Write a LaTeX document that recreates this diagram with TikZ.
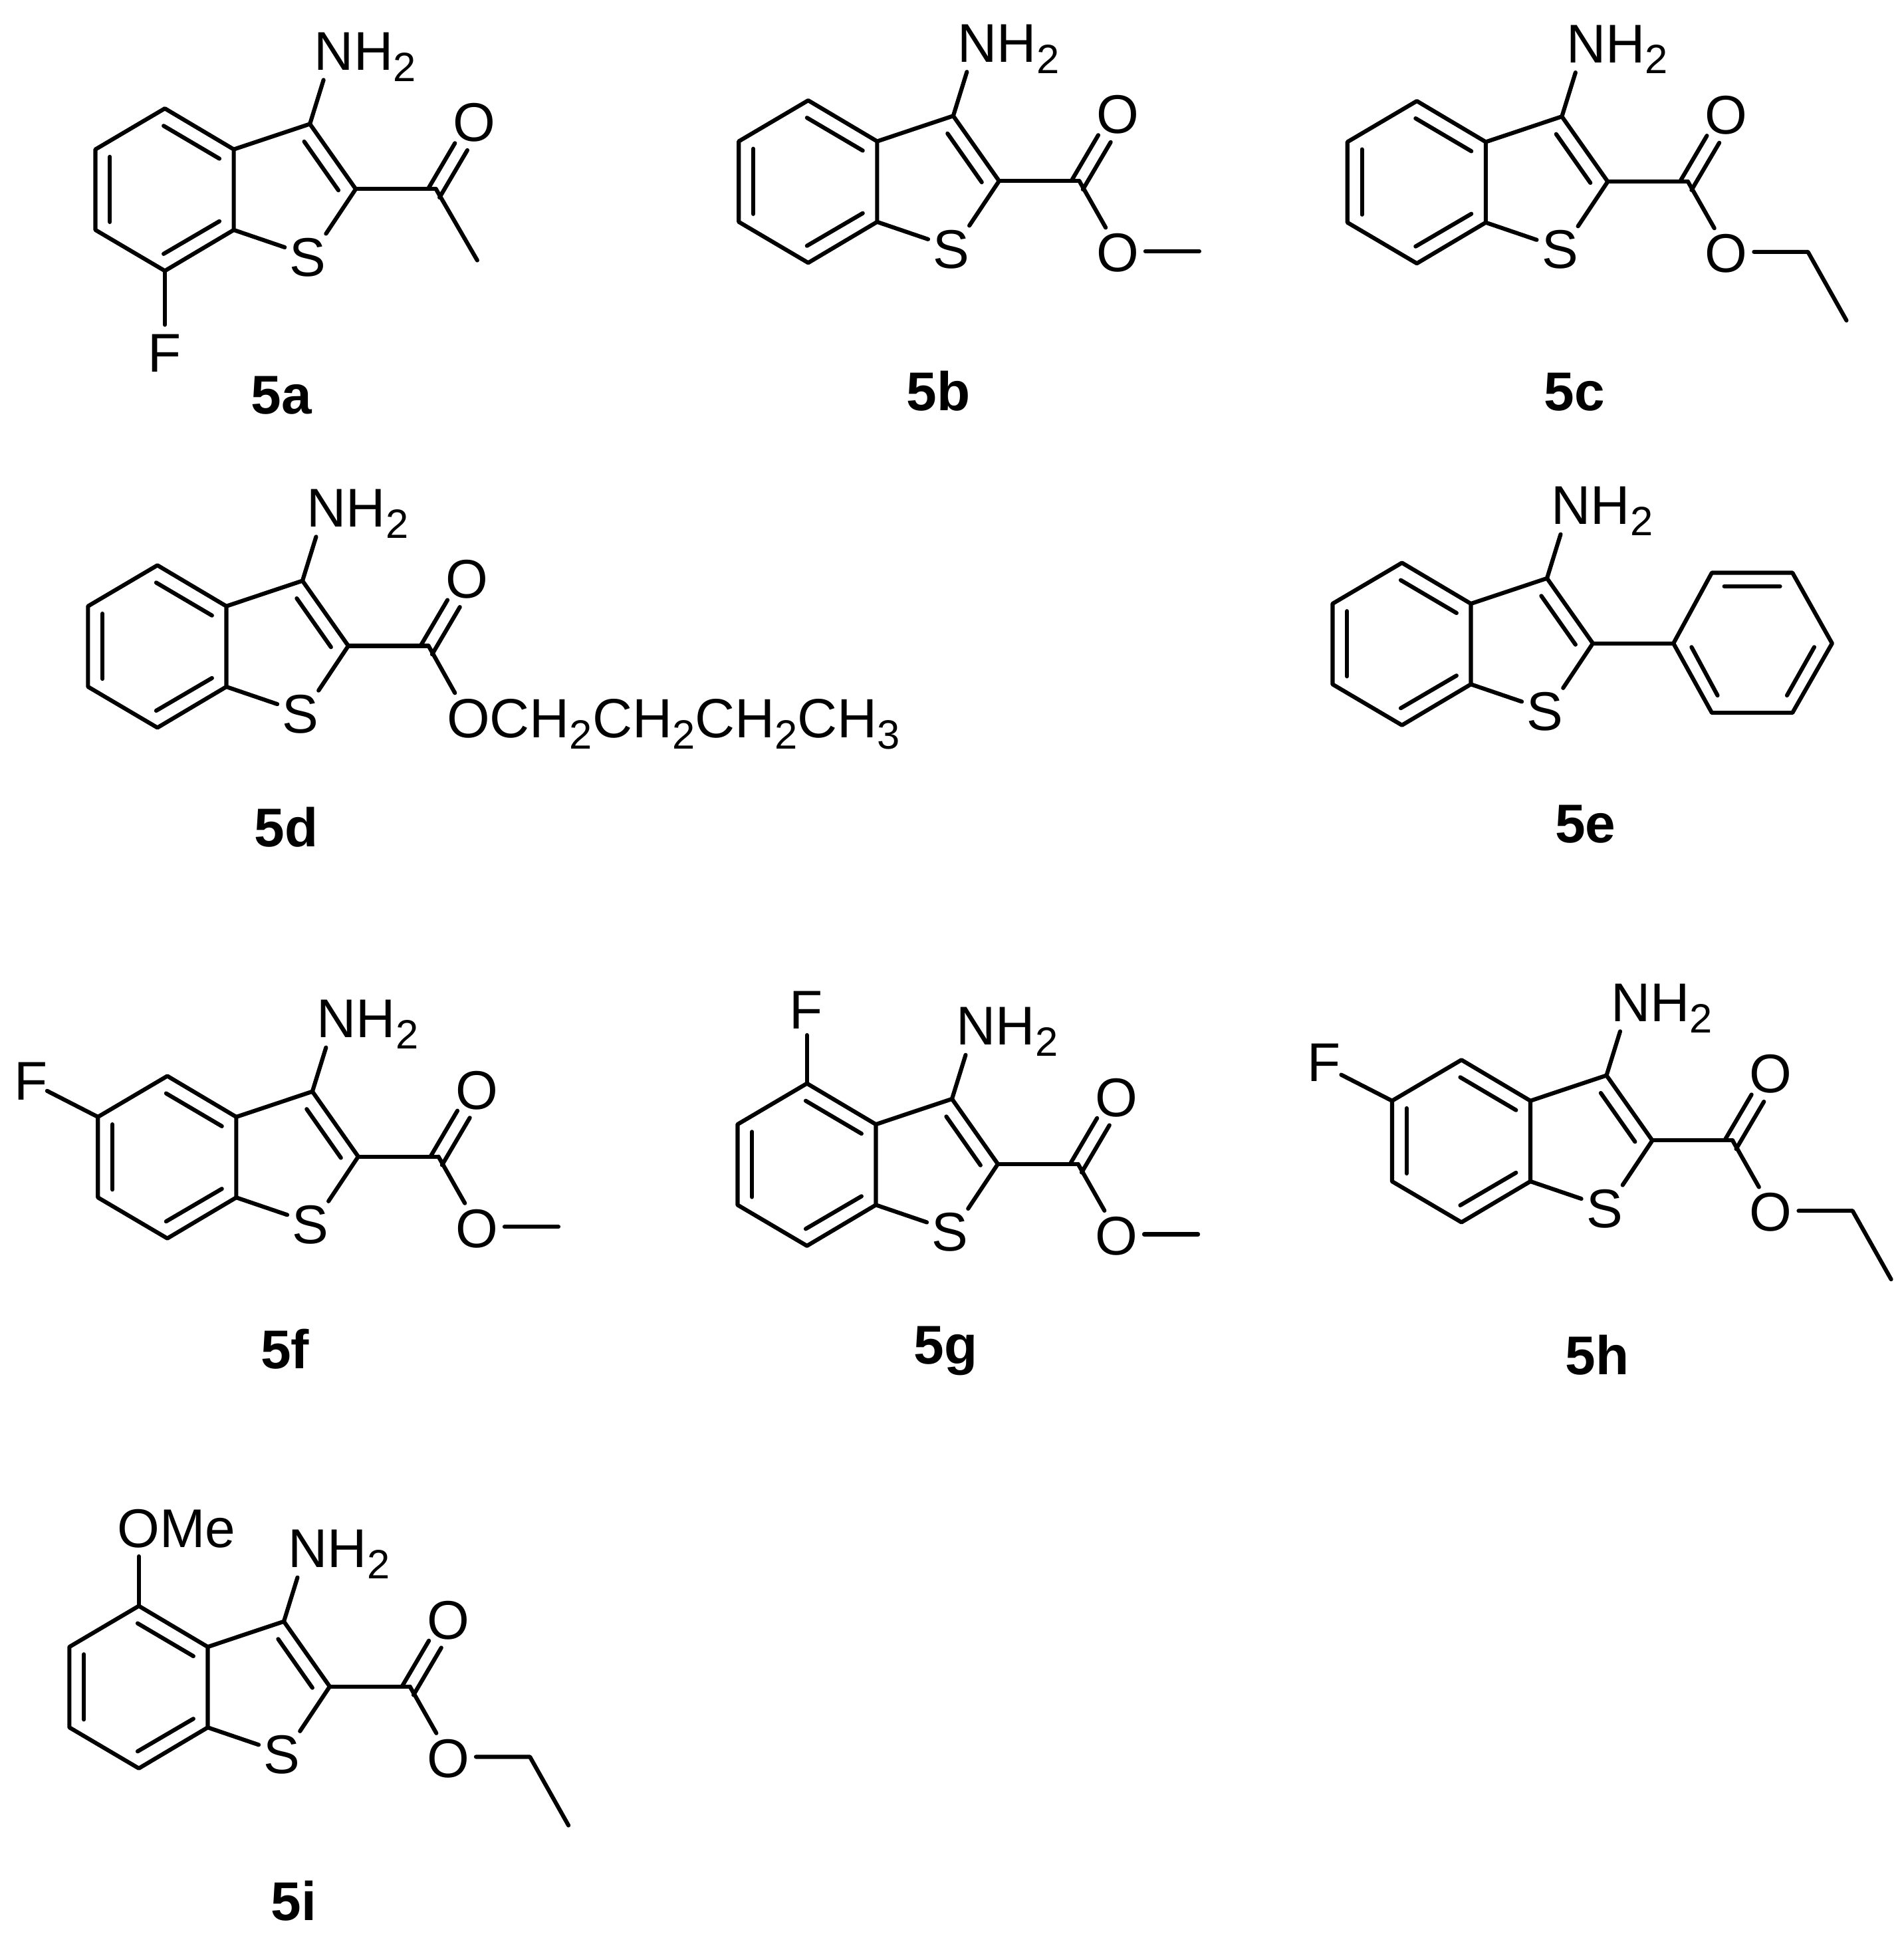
\documentclass[tikz,border=0pt]{standalone}
\usepackage{fontspec}
\setmainfont{Liberation Sans}
\newcommand{\sbs}[1]{\raisebox{-9pt}{\fontsize{33}{33}\selectfont #1}}
\tikzset{
  x=1pt,y=-1pt,
  bond/.style={line width=3.3pt,line cap=round,line join=round,black},
  atom/.style={inner sep=0pt,outer sep=0pt,font=\fontsize{44}{44}\selectfont},
  atomw/.style={atom,anchor=base west},
  cpd/.style={inner sep=0pt,outer sep=0pt,anchor=base,font=\fontsize{44}{44}\selectfont\bfseries},
}
% benzothiophene core with 3-NH2; coordinates are those of 5b, shifted by the enclosing scope
\newcommand{\core}[1]{%
  \coordinate (#1c3) at (769,93.5);
  \coordinate (#1c2) at (806,146);
  \coordinate (#1c7a) at (707.6,179);
  \coordinate (#1c3a) at (707.6,114);
  \coordinate (#1c4) at (652,81);
  \coordinate (#1c5) at (596,114);
  \coordinate (#1c6) at (596,179);
  \coordinate (#1c7) at (652,212);
  \coordinate (#1sa) at (748.7,193);
  \coordinate (#1sb) at (782,182);
  \coordinate (#1na) at (780,58);
  \coordinate (#1i1a) at (651,95);   \coordinate (#1i1b) at (696,121.5);
  \coordinate (#1i2a) at (607.7,120);\coordinate (#1i2b) at (607.7,172.6);
  \coordinate (#1i3a) at (651,198.3);\coordinate (#1i3b) at (696,172);
  \coordinate (#1i4a) at (764.4,107.7);\coordinate (#1i4b) at (792,147);
  \node[atom] (#1S) at (767.5,201) {S};
  \node[atomw] (#1N) at (772.6,50) {NH\sbs{2}};
  \draw[bond] (#1c3a) -- (#1c4) -- (#1c5) -- (#1c6) -- (#1c7) -- (#1c7a) -- cycle;
  \draw[bond] (#1c3a) -- (#1c3) -- (#1c2);
  \draw[bond] (#1c7a) -- (#1sa);
  \draw[bond] (#1c2) -- (#1sb);
  \draw[bond] (#1c3) -- (#1na);
  \draw[bond] (#1i1a) -- (#1i1b);
  \draw[bond] (#1i2a) -- (#1i2b);
  \draw[bond] (#1i3a) -- (#1i3b);
  \draw[bond] (#1i4a) -- (#1i4b);
}
% C(=O) group on C2
\newcommand{\carbonyl}[1]{%
  \coordinate (#1cc) at (870.7,146);
  \coordinate (#1d1a) at (886,109);   \coordinate (#1d1b) at (864.5,145.6);
  \coordinate (#1d2a) at (896,114.7); \coordinate (#1d2b) at (873.6,152.8);
  \node[atom] (#1Oa) at (901.5,92.5) {O};
  \draw[bond] (#1c2) -- (#1cc);
  \draw[bond] (#1d1a) -- (#1d1b);
  \draw[bond] (#1d2a) -- (#1d2b);
}
% ester oxygen
\newcommand{\estero}[1]{%
  \coordinate (#1ob) at (892,183.6);
  \node[atom] (#1Ob) at (901.5,204) {O};
  \draw[bond] (#1cc) -- (#1ob);
  \coordinate (#1me0) at (924,202.7);
  \coordinate (#1me1) at (967.5,202.7);
}
\newcommand{\methyl}[1]{\draw[bond] (#1me0) -- (#1me1);}
\newcommand{\ethyl}[1]{%
  \coordinate (#1et) at (998.6,258);
  \draw[bond] (#1me0) -- (#1me1) -- (#1et);
}
\begin{document}
\begin{tikzpicture}
\useasboundingbox (0,0) rectangle (1536,1568.2);
% 5a
\begin{scope}[shift={(-519,6.5)}]
  \core{a}\carbonyl{a}
  \coordinate (aac) at (904,203.5);
  \draw[bond] (acc) -- (aac);
  \coordinate (afb) at (652,255.5);
  \node[atom] (aF) at (652,278.5) {F};
  \draw[bond] (ac7) -- (afb);
\end{scope}
\node[cpd] (La) at (227,334) {5a};
% 5b
\begin{scope}
  \core{b}\carbonyl{b}\estero{b}\methyl{b}
\end{scope}
\node[cpd] (Lb) at (757,331) {5b};
% 5c
\begin{scope}[shift={(491,0.5)}]
  \core{c}\carbonyl{c}\estero{c}\ethyl{c}
\end{scope}
\node[cpd] (Lc) at (1270,331) {5c};
% 5d
\begin{scope}[shift={(-525,375)}]
  \core{d}\carbonyl{d}
  \coordinate (dob) at (892,184);
  \draw[bond] (dcc) -- (dob);
  \node[atomw,font=\fontsize{44.6}{44.6}\selectfont] (dO) at (885.5,220) {OCH\sbs{2}CH\sbs{2}CH\sbs{2}CH\sbs{3}};
\end{scope}
\node[cpd] (Ld) at (231,683) {5d};
% 5e
\begin{scope}[shift={(479,373)}]
  \core{e}
  \coordinate (ep1) at (871,146);
  \coordinate (ep2) at (902,89);
  \coordinate (ep3) at (967,89);
  \coordinate (ep4) at (999,146);
  \coordinate (ep5) at (967,202);
  \coordinate (ep6) at (902,202);
  \coordinate (eq1a) at (912,100);   \coordinate (eq1b) at (957,100);
  \coordinate (eq2a) at (984.6,149); \coordinate (eq2b) at (962.6,188);
  \coordinate (eq3a) at (906.6,188); \coordinate (eq3b) at (885.6,149);
  \draw[bond] (ec2) -- (ep1);
  \draw[bond] (ep1) -- (ep2) -- (ep3) -- (ep4) -- (ep5) -- (ep6) -- cycle;
  \draw[bond] (eq1a) -- (eq1b);
  \draw[bond] (eq2a) -- (eq2b);
  \draw[bond] (eq3a) -- (eq3b);
\end{scope}
\node[cpd] (Le) at (1279,680) {5e};
% 5f
\begin{scope}[shift={(-517,787)}]
  \core{f}\carbonyl{f}\estero{f}\methyl{f}
  \coordinate (ffb) at (555,93);
  \node[atom] (fF) at (542,85) {F};
  \draw[bond] (fc5) -- (ffb);
\end{scope}
\node[cpd] (Lf) at (230,1104) {5f};
% 5g
\begin{scope}[shift={(-1,793)}]
  \core{g}\carbonyl{g}\estero{g}\methyl{g}
  \coordinate (gfb) at (652,42);
  \node[atom] (gF) at (651.5,22) {F};
  \draw[bond] (gc4) -- (gfb);
\end{scope}
\node[cpd] (Lg) at (763,1100) {5g};
% 5h
\begin{scope}[shift={(527,774)}]
  \core{h}\carbonyl{h}\estero{h}\ethyl{h}
  \coordinate (hfb) at (555,93);
  \node[atom] (hF) at (541,83) {F};
  \draw[bond] (hc5) -- (hfb);
\end{scope}
\node[cpd] (Lh) at (1288.5,1109) {5h};
% 5i
\begin{scope}[shift={(-540,1214.5)}]
  \core{i}\carbonyl{i}\estero{i}\ethyl{i}
  \coordinate (ifb) at (652,41);
  \node[atomw] (iO) at (634.5,34) {OMe};
  \draw[bond] (ic4) -- (ifb);
\end{scope}
\node[cpd] (Li) at (237,1549) {5i};
\end{tikzpicture}
\end{document}
